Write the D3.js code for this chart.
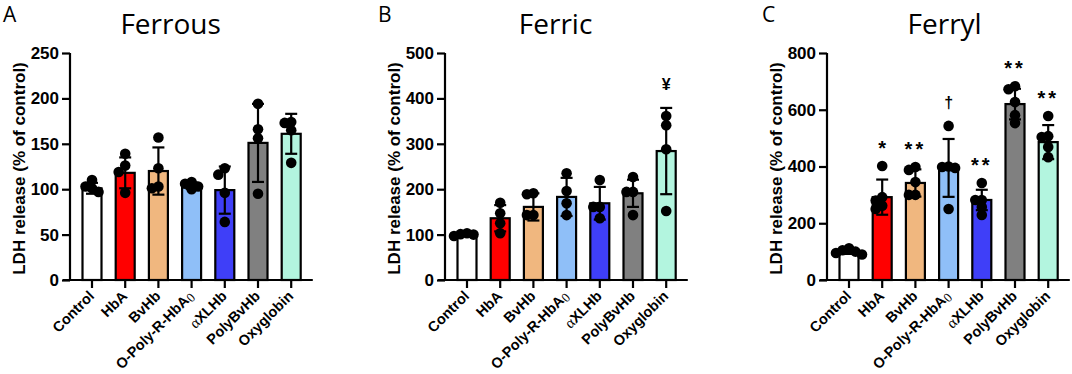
<!DOCTYPE html>
<html><head><meta charset="utf-8">
<script src="https://cdn.jsdelivr.net/npm/d3@7"></script>
<style>body{margin:0;background:#fff}svg{display:block}</style>
</head><body><svg id="c" width="1072" height="374"></svg>
<script>
const categories = ["Control","HbA","BvHb","O-Poly-R-HbA0","αXLHb","PolyBvHb","Oxyglobin"];
const barColors = ["#ffffff","#ff0000","#f0b77f","#8fbff8","#3f3ff8","#808080","#b3f5df"];
const panelTitles = ["Ferrous","Ferric","Ferryl"];
const panelLetters = ["A","B","C"];
const yMaxes = [250,500,800];
const yTicksA = [0,50,100,150,200,250];
const yTicksB = [0,100,200,300,400,500];
const yTicksC = [0,200,400,600,800];
// Ferrous
const meansA = [101,118,120,104,99,151,161];
const sdsA = [6,17,26,3.5,26,43,22];
const pointsA = [[97,101,103,110],[139,126,119,96],[157,123,101,103],[108,106,103,100],[123,116,96,64],[194,166,156,95],[174,173,165,129]];
// Ferric
const meansB = [100,136,161,183,169,191,284];
const sdsB = [3,29,30,42,36,30,95];
const pointsB = [[97,101,103,100],[170,147,125,103],[189,191,143,143],[235,196,169,143],[220,161,161,136],[227,194,194,143],[361,341,288,152]];
const sigB = ["","","","","","","¥"];
// Ferryl
const meansC = [100,292,342,395,282,620,486];
const sdsC = [8,62,48,102,36,54,60];
const pointsC = [[112,105,100,95,90],[402,292,280,262,250],[398,388,345,300,300],[543,400,398,395,250],[342,282,282,257,229],[683,672,627,581,553],[578,504,507,469,433]];
const sigC = ["","*","**","†","**","**","**"];

const panels = [
  {means:meansA, sds:sdsA, points:pointsA, ticks:yTicksA, sig:null, ax:70},
  {means:meansB, sds:sdsB, points:pointsB, ticks:yTicksB, sig:sigB, ax:445},
  {means:meansC, sds:sdsC, points:pointsC, ticks:yTicksC, sig:sigC, ax:827}
];

const svg = d3.select("#c");
const y0 = 280, yTop = 53;
const boldFont = "Liberation Sans, Arial, sans-serif";
const titleFont = "Open Sans, Noto Sans, sans-serif";

panels.forEach((p, pi) => {
  const ax = p.ax;
  const g = svg.append("g");
  const y = d3.scaleLinear().domain([0, yMaxes[pi]]).range([y0, yTop]);
  const x = d3.scaleBand().domain(categories).range([ax + 5.4, ax + 5.4 + 7*33.2]).padding(0);
  const bw = 19;
  const cx = c => x(c) + x.bandwidth()/2;

  // panel letter & title
  g.append("text").attr("x", ax - 67 + (pi===2? 2:0)).attr("y", 22)
    .attr("font-family", titleFont).attr("font-size", 21).text(panelLetters[pi]);
  g.append("text").attr("x", cx(categories[3]) - (pi===0?21:(pi===1?11:4))).attr("y", 34)
    .attr("text-anchor","middle").attr("font-family", titleFont).attr("font-size", 28).text(panelTitles[pi]);

  // bars
  g.selectAll("rect.bar").data(categories).join("rect")
    .attr("x", c => cx(c) - bw/2).attr("width", bw)
    .attr("y", (c,i) => y(p.means[i])).attr("height", (c,i) => y0 - y(p.means[i]))
    .attr("fill", (c,i) => barColors[i]).attr("stroke", "#000").attr("stroke-width", 2.2);

  // error bars
  categories.forEach((c,i) => {
    const m = p.means[i], s = p.sds[i];
    const xc = cx(c);
    g.append("line").attr("x1", xc).attr("x2", xc).attr("y1", y(m - s)).attr("y2", y(m + s))
      .attr("stroke","#000").attr("stroke-width",2.2);
    [m + s, m - s].forEach(v => g.append("line").attr("x1", xc-6).attr("x2", xc+6)
      .attr("y1", y(v)).attr("y2", y(v)).attr("stroke","#000").attr("stroke-width",2.2));
  });

  // dots with collision-avoidance spread (overlap allowed)
  const r = 5.3;
  categories.forEach((c,i) => {
    const xc = cx(c);
    const placed = [];
    const pts = p.points[i].slice().sort((a,b)=>b-a);
    pts.forEach(v => {
      const py = y(v);
      const step = 6.5;
      const cands = [0, -1, 1, -2, 2].map(k => k * step);
      let off = 0;
      for (const o of cands) {
        if (placed.every(q => Math.hypot(q[0]-o, q[1]-py) >= 6.5)) { off = o; break; }
      }
      placed.push([off, py]);
      g.append("circle").attr("cx", xc + off).attr("cy", py).attr("r", r).attr("fill","#000");
    });
  });

  // significance markers
  if (p.sig) {
    categories.forEach((c,i) => {
      if (!p.sig[i]) return;
      const top = Math.max(p.means[i] + p.sds[i], d3.max(p.points[i]));
      const star = p.sig[i].includes("*");
      g.append("text").attr("x", cx(c)).attr("y", y(top) - 23)
        .attr("text-anchor","middle").attr("dominant-baseline","central")
        .attr("font-family", boldFont).attr("font-weight", "bold").attr("fill", "#000")
        .attr("font-size", star ? 20 : 16)
        .attr("dy", star ? 5 : 0)
        .attr("letter-spacing", p.sig[i]==="**"?3:0)
        .text(p.sig[i]);
    });
  }

  // y axis
  const yAxis = d3.axisLeft(y).tickValues(p.ticks).tickSize(8).tickPadding(3).tickFormat(d3.format("d"));
  const ya = g.append("g").attr("transform", `translate(${ax},0)`).call(yAxis);
  ya.attr("font-family", boldFont).attr("font-size", 17).attr("font-weight","bold");
  ya.select(".domain").attr("stroke-width", 2.2).attr("d", `M0,${y0+1}V${yTop}`);
  ya.selectAll(".tick line").attr("stroke-width", 2.2);
  ya.selectAll(".tick text").attr("fill","#000");

  // x axis
  const xAxis = d3.axisBottom(x).tickSize(8).tickFormat("");
  const xa = g.append("g").attr("transform", `translate(0,${y0})`).call(xAxis);
  xa.select(".domain").attr("stroke-width", 2.2).attr("d", `M${ax-7},0H${ax + 5.4 + 7*33.2 + 5}`);
  xa.selectAll(".tick line").attr("stroke-width", 2.2);

  // x labels rotated
  categories.forEach((c,i) => {
    const t = g.append("text")
      .attr("transform", `translate(${cx(c)+3},${y0+17}) rotate(-45)`)
      .attr("text-anchor","end")
      .attr("font-family", boldFont).attr("font-weight","bold").attr("font-size", 14.5);
    if (c === "O-Poly-R-HbA0") {
      t.append("tspan").text("O-Poly-R-HbA");
      t.append("tspan").attr("font-family","Liberation Serif, serif").attr("font-weight","normal")
        .attr("font-size", 13).attr("dy", 2).text("0");
    } else if (c === "αXLHb") {
      t.append("tspan").attr("font-family","Liberation Serif, serif").attr("font-weight","normal")
        .attr("font-size", 15).text("α");
      t.append("tspan").text("XLHb");
    } else {
      t.text(c);
    }
  });

  // y label
  g.append("text").attr("transform", `translate(${ax-45},${(y0+yTop)/2 + 2}) rotate(-90)`)
    .attr("text-anchor","middle").attr("font-family", boldFont).attr("font-weight","bold")
    .attr("font-size", 17).text("LDH release (% of control)");
});
</script></body></html>
